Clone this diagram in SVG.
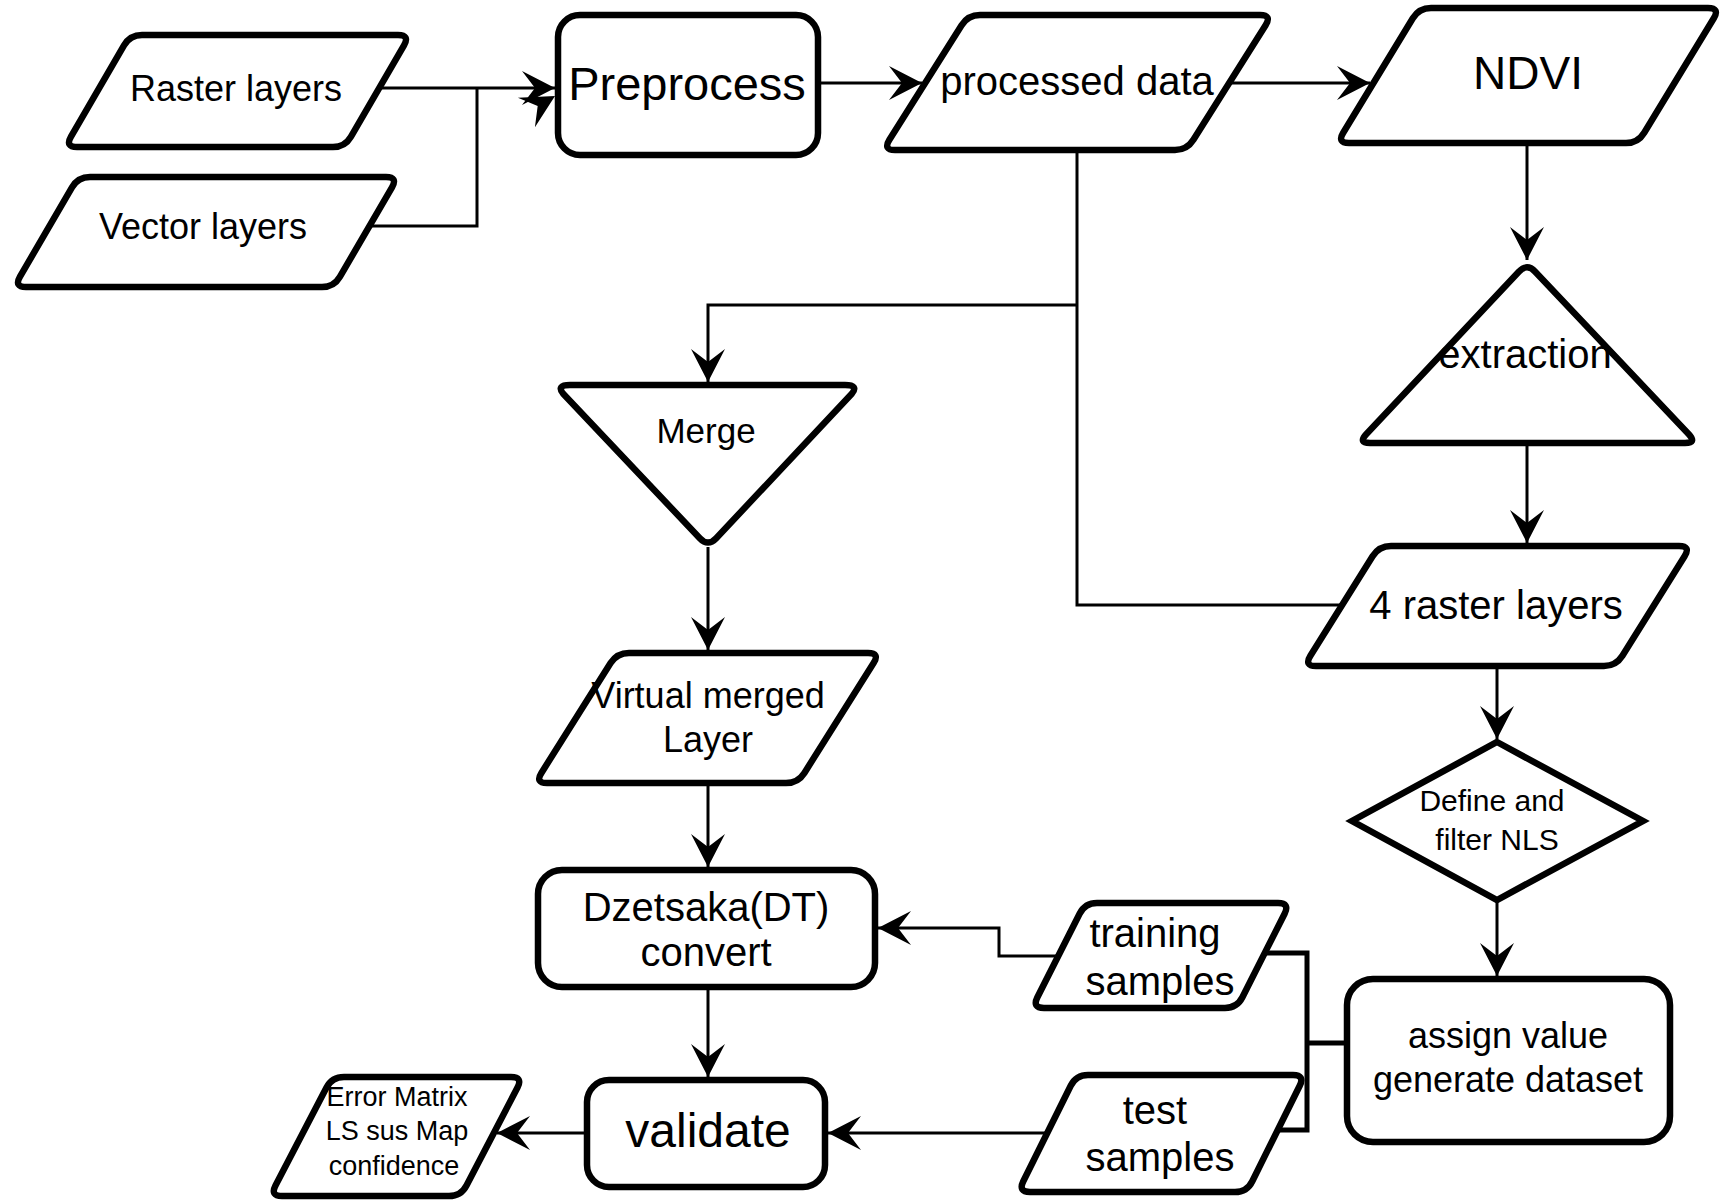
<svg xmlns="http://www.w3.org/2000/svg" width="1732" height="1200" viewBox="0 0 1732 1200">
<defs>
<style>
.n{fill:#fff;stroke:#000;stroke-width:6.5;stroke-linejoin:round}
.c{fill:none;stroke:#000;stroke-width:3}
.b{fill:none;stroke:#000;stroke-width:5}
text{font-family:"Liberation Sans",Arial,sans-serif;fill:#000;text-anchor:middle;dominant-baseline:central}
</style>
<marker id="arr" markerUnits="userSpaceOnUse" viewBox="-34 -18 36 36" markerWidth="36" markerHeight="36" refX="0" refY="0" orient="auto" overflow="visible">
<path d="M0,0 L-33,-17 L-20,0 L-33,17 Z" fill="#000"/>
</marker>
<path id="ah" d="M0,0 L-33,-17 L-20,0 L-33,17 Z" fill="#000"/>
</defs>
<rect width="1732" height="1200" fill="#fff"/>

<g id="connectors">
<path class="c" d="M379,88 L555,88" marker-end="url(#arr)"/>
<path class="c" d="M370,226 H477 V88"/>
<use href="#ah" transform="translate(555,96) rotate(-30)"/>
<path class="c" d="M818,83 L922,83" marker-end="url(#arr)"/>
<path class="c" d="M1229,83 L1370,83" marker-end="url(#arr)"/>
<path class="c" d="M1077,150 V605 H1342"/>
<path class="c" d="M1077,305 H708 V382" marker-end="url(#arr)"/>
<path class="c" d="M1527,143 V260" marker-end="url(#arr)"/>
<path class="c" d="M1527,443 V543" marker-end="url(#arr)"/>
<path class="c" d="M1497,666 V739" marker-end="url(#arr)"/>
<path class="c" d="M1497,900 V976" marker-end="url(#arr)"/>
<path class="c" d="M708,547 V650" marker-end="url(#arr)"/>
<path class="c" d="M708,783 V867" marker-end="url(#arr)"/>
<path class="c" d="M708,987 V1077" marker-end="url(#arr)"/>
<path class="c" d="M587,1133 L497,1133" marker-end="url(#arr)"/>
<path class="c" d="M1047,1133 L828,1133" marker-end="url(#arr)"/>
<path class="c" d="M1058,956 H999 V928 H878" marker-end="url(#arr)"/>
<path class="b" d="M1265,953 H1307 V1130 H1278"/>
<path class="b" d="M1307,1043 H1347"/>
</g>

<g id="raster-layers">
<path class="n" d="M142,35 L398,35 Q410,35 404,45.4 L351,136.6 Q345,147 333,147 L77,147 Q65,147 71,136.6 L124,45.4 Q130,35 142,35 Z"/>
<text x="236" y="88" font-size="36">Raster layers</text>
</g>

<g id="vector-layers">
<path class="n" d="M90,177 L386,177 Q398,177 392,187.4 L340,276.6 Q334,287 322,287 L26,287 Q14,287 20,276.6 L72,187.4 Q78,177 90,177 Z"/>
<text x="203" y="226" font-size="36">Vector layers</text>
</g>

<g id="preprocess">
<rect class="n" x="558" y="15" width="260" height="140" rx="22"/>
<text x="687" y="83" font-size="47">Preprocess</text>
</g>

<g id="processed-data">
<path class="n" d="M980,15 L1260,15 Q1272,15 1265.6,25.2 L1193.4,139.8 Q1187,150 1175,150 L895,150 Q883,150 889.4,139.8 L961.6,25.2 Q968,15 980,15 Z"/>
<text x="1077" y="81" font-size="40">processed data</text>
</g>

<g id="ndvi">
<path class="n" d="M1431,8 L1708,8 Q1720,8 1713.8,18.3 L1644.2,132.7 Q1638,143 1626,143 L1349,143 Q1337,143 1343.2,132.7 L1412.8,18.3 Q1419,8 1431,8 Z"/>
<text x="1528" y="73" font-size="46">NDVI</text>
</g>

<g id="extraction">
<path class="n" d="M1535.2,271.7 L1688.8,434.3 Q1697,443 1685,443 L1370,443 Q1358,443 1366.2,434.3 L1518.8,271.7 Q1527,263 1535.2,271.7 Z"/>
<text x="1525" y="354" font-size="40">extraction</text>
</g>

<g id="four-raster-layers">
<path class="n" d="M1391,546 L1679,546 Q1691,546 1684.6,556.2 L1622.4,655.8 Q1616,666 1604,666 L1316,666 Q1304,666 1310.4,655.8 L1372.6,556.2 Q1379,546 1391,546 Z"/>
<text x="1496" y="605" font-size="40">4 raster layers</text>
</g>

<g id="define-filter">
<polygon class="n" style="stroke-linejoin:miter" points="1497,742 1643,821 1497,900 1352,821"/>
<text x="1492" y="800" font-size="30">Define and</text>
<text x="1497" y="839" font-size="30">filter NLS</text>
</g>

<g id="assign-value">
<rect class="n" x="1347" y="979" width="323" height="163" rx="26"/>
<text x="1508" y="1035" font-size="36">assign value</text>
<text x="1508" y="1079" font-size="36">generate dataset</text>
</g>

<g id="training-samples">
<path class="n" d="M1097,903 L1278,903 Q1290,903 1284.6,913.7 L1242.4,997.3 Q1237,1008 1225,1008 L1044,1008 Q1032,1008 1037.4,997.3 L1079.6,913.7 Q1085,903 1097,903 Z"/>
<text x="1155" y="933" font-size="40">training</text>
<text x="1160" y="981" font-size="40">samples</text>
</g>

<g id="test-samples">
<path class="n" d="M1088,1075 L1293,1075 Q1305,1075 1299.7,1085.8 L1252.3,1181.2 Q1247,1192 1235,1192 L1030,1192 Q1018,1192 1023.3,1181.2 L1070.7,1085.8 Q1076,1075 1088,1075 Z"/>
<text x="1155" y="1110" font-size="40">test</text>
<text x="1160" y="1157" font-size="40">samples</text>
</g>

<g id="merge">
<path class="n" d="M570,385 L845,385 Q859,385 851.8,393.8 L716.2,538.2 Q708,547 699.8,538.2 L563.2,393.8 Q556,385 570,385 Z"/>
<text x="706" y="430" font-size="35">Merge</text>
</g>

<g id="virtual-merged-layer">
<path class="n" d="M629,653 L868,653 Q880,653 873.6,663.1 L804.4,772.9 Q798,783 786,783 L547,783 Q535,783 541.4,772.9 L610.6,663.1 Q617,653 629,653 Z"/>
<text x="708" y="695" font-size="36">Virtual merged</text>
<text x="708" y="739" font-size="36">Layer</text>
</g>

<g id="dzetsaka">
<rect class="n" x="538" y="870" width="337" height="117" rx="24"/>
<text x="706" y="907" font-size="40">Dzetsaka(DT)</text>
<text x="706" y="952" font-size="40">convert</text>
</g>

<g id="validate">
<rect class="n" x="587" y="1080" width="238" height="107" rx="22"/>
<text x="708" y="1130" font-size="48">validate</text>
</g>

<g id="error-matrix">
<path class="n" d="M344,1077 L511,1077 Q523,1077 517.5,1087.6 L466.5,1185.4 Q461,1196 449,1196 L282,1196 Q270,1196 275.5,1185.4 L326.5,1087.6 Q332,1077 344,1077 Z"/>
<text x="397" y="1097" font-size="27">Error Matrix</text>
<text x="397" y="1131" font-size="27">LS sus Map</text>
<text x="394" y="1166" font-size="27">confidence</text>
</g>
</svg>
